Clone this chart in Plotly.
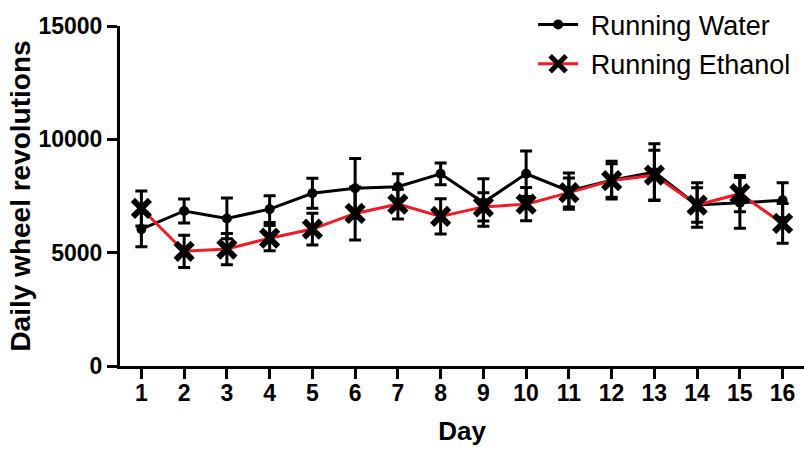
import plotly.graph_objects as go

days = list(range(1, 17))
water = [6040, 6840, 6510, 6920, 7620, 7840, 7910, 8480, 7210, 8480, 7720, 8200, 8550, 7100, 7200, 7310]
water_err = [780, 530, 900, 590, 660, 1310, 570, 480, 1050, 1000, 800, 830, 1250, 980, 1120, 770]
ethanol = [6950, 5060, 5160, 5640, 6040, 6730, 7140, 6600, 7020, 7140, 7650, 8180, 8420, 7100, 7600, 6290]
ethanol_err = [770, 710, 690, 560, 700, 1170, 660, 780, 620, 730, 640, 740, 1100, 760, 800, 880]

y_ticks = [0, 5000, 10000, 15000]
x_ticks = days

FONT = "Arial, Liberation Sans, sans-serif"

fig = go.Figure()
fig.add_trace(go.Scatter(
    x=days, y=water, name=" Running Water", mode="lines+markers",
    line=dict(color="black", width=3),
    marker=dict(symbol="circle", size=10, color="black"),
    error_y=dict(type="data", array=water_err, visible=True, color="black", thickness=3, width=6),
    legendgroup="a",
))
fig.add_trace(go.Scatter(
    x=days, y=ethanol, name=" Running Ethanol", mode="lines+markers",
    line=dict(color="#ee1c25", width=3),
    marker=dict(symbol="x-thin", size=17, color="black", line=dict(color="black", width=6)),
    error_y=dict(type="data", array=ethanol_err, visible=True, color="black", thickness=3, width=6),
    legendgroup="b",
))

fig.update_layout(
    width=804, height=449,
    margin=dict(l=120, r=0, t=24, b=83),
    plot_bgcolor="white", paper_bgcolor="white",
    font=dict(family=FONT, color="black"),
    showlegend=True,
    legend=dict(x=0.604, y=1.075, xanchor="left", yanchor="top",
                font=dict(size=27, family=FONT, color="black"),
                itemwidth=40,
                bgcolor="rgba(0,0,0,0)", traceorder="grouped", tracegroupgap=1),
    xaxis=dict(
        range=[0.5, 16.5], tickvals=x_ticks, ticktext=[str(d) for d in x_ticks],
        showline=True, linecolor="black", linewidth=3, showgrid=False, zeroline=False,
        ticks="outside", ticklen=10, tickwidth=3, tickcolor="black",
        ticklabelstandoff=-6,
        tickfont=dict(size=23, family=FONT, weight="bold"),
        title=dict(text="Day", font=dict(size=26, family=FONT, weight="bold"), standoff=18),
    ),
    yaxis=dict(
        range=[0, 15000], tickvals=y_ticks, ticktext=[str(v) for v in y_ticks],
        showline=True, linecolor="black", linewidth=3, showgrid=False, zeroline=False,
        ticks="outside", ticklen=10, tickwidth=3, tickcolor="black",
        tickfont=dict(size=23, family=FONT, weight="bold"),
        title=dict(text="Daily wheel revolutions", font=dict(size=28, family=FONT, weight="bold"), standoff=0),
    ),
)

fig.write_html("out.html")
